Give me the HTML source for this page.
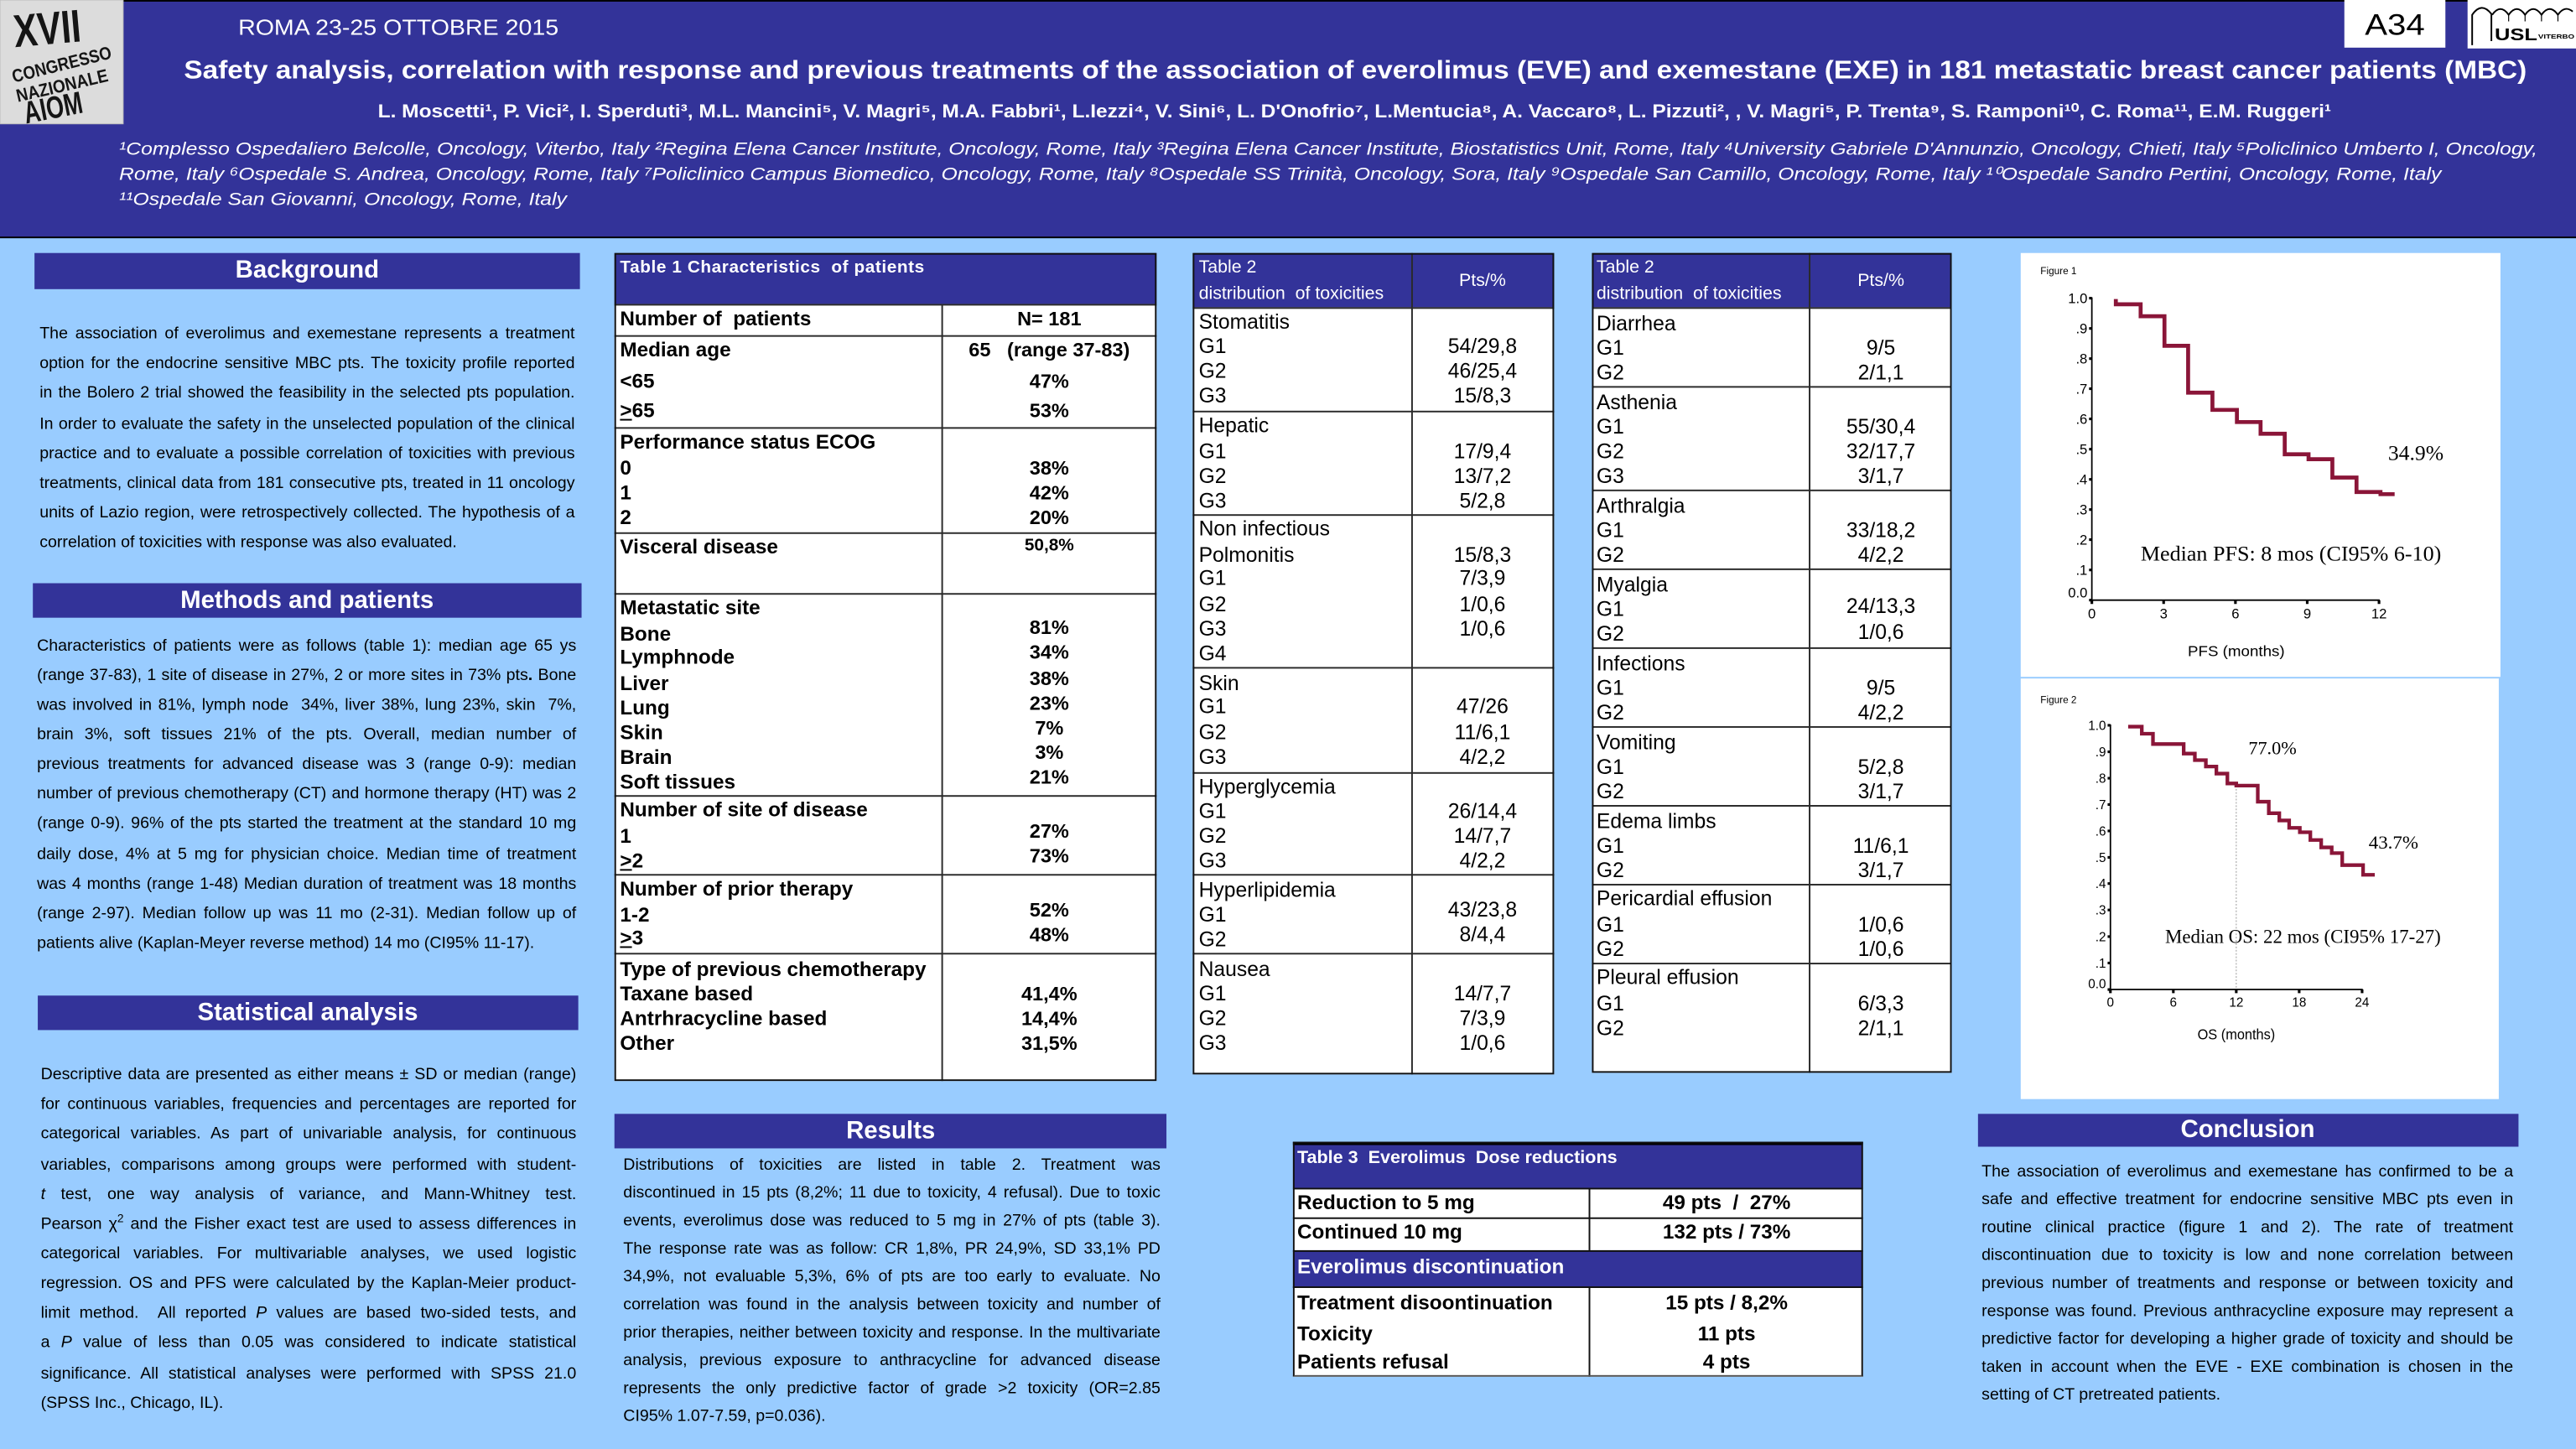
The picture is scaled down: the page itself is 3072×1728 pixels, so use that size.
<!DOCTYPE html>
<html><head><meta charset="utf-8">
<style>
html,body{margin:0;padding:0;}
body{width:3072px;height:1728px;overflow:hidden;background:#99ccff;}
#p{position:absolute;left:0;top:0;width:1568px;height:882px;transform:scale(1.959184);transform-origin:0 0;background:#99ccff;font-family:"Liberation Sans",Arial,sans-serif;color:#000;}
.a{position:absolute;}
.bar{position:absolute;background:#333399;color:#fff;font-weight:bold;font-size:15px;text-align:center;}
.pg{position:absolute;font-size:10px;}
.pg div{text-align:justify;text-align-last:justify;}
.pg div.l{text-align:left;text-align-last:left;}
.w{position:absolute;background:#fff;}
.bl{position:absolute;background:#333399;}
.hl{position:absolute;height:0.9px;background:#2a2a2a;}
.vl{position:absolute;width:0.9px;background:#2a2a2a;}
.bd{position:absolute;box-sizing:border-box;border:1.6px solid #111;}
.t{position:absolute;white-space:nowrap;line-height:14px;height:14px;}
.a1{left:377.4px;font-weight:bold;font-size:12.4px;}
.b1{left:573.7px;width:130px;text-align:center;font-weight:bold;font-size:12px;}
.a2{left:729.7px;font-size:12.6px;}
.b2{left:858.9px;width:87px;text-align:center;font-size:12.6px;}
.a3{left:971.8px;font-size:12.6px;}
.b3{left:1101.5px;width:86.8px;text-align:center;font-size:12.6px;}
.a4{left:789.6px;font-weight:bold;font-size:12.4px;}
.b4{left:967.6px;width:166.8px;text-align:center;font-weight:bold;font-size:12.4px;}
.wh{color:#fff;}
.sp{font-size:7px;vertical-align:4px;line-height:0;}
</style></head><body>
<div id="p">
<!-- header -->
<div class="a" style="left:0;top:0;width:1568px;height:144.5px;background:#333399;box-sizing:border-box;border-top:0.7px solid #000;border-bottom:0.9px solid #000;"></div>

<!-- section bars -->
<div class="bar" style="left:21.3px;top:154.2px;width:331.4px;height:21.8px;line-height:21.8px;">Background</div>
<div class="bar" style="left:19.9px;top:355.4px;width:334px;height:21.1px;line-height:21.1px;">Methods and patients</div>
<div class="bar" style="left:22.5px;top:605.5px;width:329.7px;height:21px;line-height:21px;">Statistical analysis</div>
<div class="bar" style="left:374.4px;top:677.5px;width:335.5px;height:21.1px;line-height:21.1px;">Results</div>
<div class="bar" style="left:1203.6px;top:677.5px;width:329.2px;height:20.6px;line-height:20.6px;">Conclusion</div>

<!-- Background paragraph -->
<div class="pg" style="left:24.1px;top:195.2px;width:325.8px;line-height:18.14px;">
<div>The association of everolimus and exemestane represents a treatment</div>
<div>option for the endocrine sensitive MBC pts. The toxicity profile reported</div>
<div>in the Bolero 2 trial showed the feasibility in the selected pts population.</div>
<div>In order to evaluate the safety in the unselected population of the clinical</div>
<div>practice and to evaluate a possible correlation of toxicities with previous</div>
<div>treatments, clinical data from 181 consecutive pts, treated in 11 oncology</div>
<div>units of Lazio region, were retrospectively collected. The hypothesis of a</div>
<div class="l">correlation of toxicities with response was also evaluated.</div>
</div>

<!-- Methods paragraph -->
<div class="pg" style="left:22.5px;top:384.5px;width:328.3px;line-height:18.15px;">
<div>Characteristics of patients were as follows (table 1): median age 65 ys</div>
<div>(range 37-83), 1 site of disease in 27%, 2 or more sites in 73% pts<b>.</b> Bone</div>
<div>was involved in 81%, lymph node &nbsp;34%, liver 38%, lung 23%, skin &nbsp;7%,</div>
<div>brain 3%, soft tissues 21% of the pts. Overall, median number of</div>
<div>previous treatments for advanced disease was 3 (range 0-9): median</div>
<div>number of previous chemotherapy (CT) and hormone therapy (HT) was 2</div>
<div>(range 0-9). 96% of the pts started the treatment at the standard 10 mg</div>
<div>daily dose, 4% at 5 mg for physician choice. Median time of treatment</div>
<div>was 4 months (range 1-48) Median duration of treatment was 18 months</div>
<div>(range 2-97). Median follow up was 11 mo (2-31). Median follow up of</div>
<div class="l">patients alive (Kaplan-Meyer reverse method) 14 mo (CI95% 11-17).</div>
</div>

<!-- Statistical paragraph -->
<div class="pg" style="left:24.8px;top:646.2px;width:326px;line-height:18.14px;">
<div>Descriptive data are presented as either means ± SD or median (range)</div>
<div>for continuous variables, frequencies and percentages are reported for</div>
<div>categorical variables. As part of univariable analysis, for continuous</div>
<div>variables, comparisons among groups were performed with student-</div>
<div><i>t</i> test, one way analysis of variance, and Mann-Whitney test.</div>
<div>Pearson χ<span class="sp">2</span> and the Fisher exact test are used to assess differences in</div>
<div>categorical variables. For multivariable analyses, we used logistic</div>
<div>regression. OS and PFS were calculated by the Kaplan-Meier product-</div>
<div>limit method. &nbsp;All reported <i>P</i> values are based two-sided tests, and</div>
<div>a <i>P</i> value of less than 0.05 was considered to indicate statistical</div>
<div>significance. All statistical analyses were performed with SPSS 21.0</div>
<div class="l">(SPSS Inc., Chicago, IL).</div>
</div>

<!-- Results paragraph -->
<div class="pg" style="left:379.4px;top:701.8px;width:327px;line-height:16.98px;">
<div>Distributions of toxicities are listed in table 2. Treatment was</div>
<div>discontinued in 15 pts (8,2%; 11 due to toxicity, 4 refusal). Due to toxic</div>
<div>events, everolimus dose was reduced to 5 mg in 27% of pts (table 3).</div>
<div>The response rate was as follow: CR 1,8%, PR 24,9%, SD 33,1% PD</div>
<div>34,9%, not evaluable 5,3%, 6% of pts are too early to evaluate. No</div>
<div>correlation was found in the analysis between toxicity and number of</div>
<div>prior therapies, neither between toxicity and response. In the multivariate</div>
<div>analysis, previous exposure to anthracycline for advanced disease</div>
<div>represents the only predictive factor of grade &gt;2 toxicity (OR=2.85</div>
<div class="l">CI95% 1.07-7.59, p=0.036).</div>
</div>

<!-- Conclusion paragraph -->
<div class="pg" style="left:1206.2px;top:706.1px;width:323.6px;line-height:16.96px;">
<div>The association of everolimus and exemestane has confirmed to be a</div>
<div>safe and effective treatment for endocrine sensitive MBC pts even in</div>
<div>routine clinical practice (figure 1 and 2). The rate of treatment</div>
<div>discontinuation due to toxicity is low and none correlation between</div>
<div>previous number of treatments and response or between toxicity and</div>
<div>response was found. Previous anthracycline exposure may represent a</div>
<div>predictive factor for developing a higher grade of toxicity and should be</div>
<div>taken in account when the EVE - EXE combination is chosen in the</div>
<div class="l">setting of CT pretreated patients.</div>
</div>

<!-- TABLE 1 -->
<div class="w" style="left:373.6px;top:154px;width:330.2px;height:504.4px;"></div>
<div class="bl" style="left:373.6px;top:154px;width:330.2px;height:30.9px;"></div>
<div class="t wh" style="left:377.4px;top:156.1px;font-weight:bold;font-size:10.6px;letter-spacing:0.3px;">Table 1 Characteristics &nbsp;of patients</div>
<div class="hl" style="left:373.6px;width:330.2px;top:184.5px;"></div>
<div class="hl" style="left:373.6px;width:330.2px;top:204px;"></div>
<div class="hl" style="left:373.6px;width:330.2px;top:260.3px;"></div>
<div class="hl" style="left:373.6px;width:330.2px;top:323.7px;"></div>
<div class="hl" style="left:373.6px;width:330.2px;top:360.6px;"></div>
<div class="hl" style="left:373.6px;width:330.2px;top:484.3px;"></div>
<div class="hl" style="left:373.6px;width:330.2px;top:532px;"></div>
<div class="hl" style="left:373.6px;width:330.2px;top:580.2px;"></div>
<div class="vl" style="left:573.3px;top:184.9px;height:473.5px;"></div>
<div class="bd" style="left:373.6px;top:154px;width:330.2px;height:504.4px;"></div>

<div class="t a1" style="top:187.3px">Number of &nbsp;patients</div>
<div class="t a1" style="top:206.4px">Median age</div>
<div class="t a1" style="top:224.9px">&lt;65</div>
<div class="t a1" style="top:242.6px"><u>&gt;</u>65</div>
<div class="t a1" style="top:262.4px">Performance status ECOG</div>
<div class="t a1" style="top:277.8px">0</div>
<div class="t a1" style="top:292.6px">1</div>
<div class="t a1" style="top:307.7px">2</div>
<div class="t a1" style="top:325.8px">Visceral disease</div>
<div class="t a1" style="top:363px">Metastatic site</div>
<div class="t a1" style="top:378.5px">Bone</div>
<div class="t a1" style="top:393.2px">Lymphnode</div>
<div class="t a1" style="top:408.6px">Liver</div>
<div class="t a1" style="top:423.7px">Lung</div>
<div class="t a1" style="top:438.8px">Skin</div>
<div class="t a1" style="top:453.9px">Brain</div>
<div class="t a1" style="top:469px">Soft tissues</div>
<div class="t a1" style="top:486.4px">Number of site of disease</div>
<div class="t a1" style="top:501.9px">1</div>
<div class="t a1" style="top:516.6px"><u>&gt;</u>2</div>
<div class="t a1" style="top:534.4px">Number of prior therapy</div>
<div class="t a1" style="top:549.5px">1-2</div>
<div class="t a1" style="top:564.3px"><u>&gt;</u>3</div>
<div class="t a1" style="top:583px">Type of previous chemotherapy</div>
<div class="t a1" style="top:597.8px">Taxane based</div>
<div class="t a1" style="top:612.5px">Antrhracycline based</div>
<div class="t a1" style="top:628px">Other</div>

<div class="t b1" style="top:187.3px">N= 181</div>
<div class="t b1" style="top:206.4px">65 &nbsp;&nbsp;(range 37-83)</div>
<div class="t b1" style="top:224.9px">47%</div>
<div class="t b1" style="top:242.6px">53%</div>
<div class="t b1" style="top:277.8px">38%</div>
<div class="t b1" style="top:292.6px">42%</div>
<div class="t b1" style="top:307.7px">20%</div>
<div class="t b1" style="top:324.8px;font-size:10.6px;">50,8%</div>
<div class="t b1" style="top:375.1px">81%</div>
<div class="t b1" style="top:390.2px">34%</div>
<div class="t b1" style="top:405.6px">38%</div>
<div class="t b1" style="top:420.7px">23%</div>
<div class="t b1" style="top:436.1px">7%</div>
<div class="t b1" style="top:451.2px">3%</div>
<div class="t b1" style="top:466.3px">21%</div>
<div class="t b1" style="top:498.8px">27%</div>
<div class="t b1" style="top:513.9px">73%</div>
<div class="t b1" style="top:546.8px">52%</div>
<div class="t b1" style="top:561.9px">48%</div>
<div class="t b1" style="top:597.8px">41,4%</div>
<div class="t b1" style="top:612.5px">14,4%</div>
<div class="t b1" style="top:627.5px">31,5%</div>

<!-- TABLE 2a -->
<div class="w" style="left:726.3px;top:154px;width:219.5px;height:500.4px;"></div>
<div class="bl" style="left:726.3px;top:154px;width:219.5px;height:33.3px;"></div>
<div class="t wh" style="left:729.7px;top:155.8px;font-size:10.9px;">Table 2</div>
<div class="t wh" style="left:729.7px;top:172.2px;font-size:10.9px;">distribution &nbsp;of toxicities</div>
<div class="t wh" style="left:858.9px;width:87px;text-align:center;top:163.8px;font-size:10.9px;">Pts/%</div>
<div class="hl" style="left:726.3px;width:219.5px;top:186.9px;"></div>
<div class="hl" style="left:726.3px;width:219.5px;top:249.9px;"></div>
<div class="hl" style="left:726.3px;width:219.5px;top:313px;"></div>
<div class="hl" style="left:726.3px;width:219.5px;top:406.2px;"></div>
<div class="hl" style="left:726.3px;width:219.5px;top:469.6px;"></div>
<div class="hl" style="left:726.3px;width:219.5px;top:532.3px;"></div>
<div class="hl" style="left:726.3px;width:219.5px;top:580.2px;"></div>
<div class="vl" style="left:858.5px;top:154px;height:500.4px;"></div>
<div class="bd" style="left:726.3px;top:154px;width:219.5px;height:500.4px;"></div>

<div class="t a2" style="top:189px">Stomatitis</div>
<div class="t a2" style="top:204.1px">G1</div>
<div class="t a2" style="top:219.2px">G2</div>
<div class="t a2" style="top:234.3px">G3</div>
<div class="t a2" style="top:252.3px">Hepatic</div>
<div class="t a2" style="top:267.6px">G1</div>
<div class="t a2" style="top:282.6px">G2</div>
<div class="t a2" style="top:297.6px">G3</div>
<div class="t a2" style="top:315.4px">Non infectious</div>
<div class="t a2" style="top:330.5px">Polmonitis</div>
<div class="t a2" style="top:345.4px">G1</div>
<div class="t a2" style="top:360.7px">G2</div>
<div class="t a2" style="top:375.8px">G3</div>
<div class="t a2" style="top:390.8px">G4</div>
<div class="t a2" style="top:408.6px">Skin</div>
<div class="t a2" style="top:423.2px">G1</div>
<div class="t a2" style="top:438.5px">G2</div>
<div class="t a2" style="top:453.6px">G3</div>
<div class="t a2" style="top:472px">Hyperglycemia</div>
<div class="t a2" style="top:487.1px">G1</div>
<div class="t a2" style="top:502.2px">G2</div>
<div class="t a2" style="top:517.3px">G3</div>
<div class="t a2" style="top:535.1px">Hyperlipidemia</div>
<div class="t a2" style="top:550.2px">G1</div>
<div class="t a2" style="top:564.9px">G2</div>
<div class="t a2" style="top:583px">Nausea</div>
<div class="t a2" style="top:597.8px">G1</div>
<div class="t a2" style="top:612.8px">G2</div>
<div class="t a2" style="top:628px">G3</div>

<div class="t b2" style="top:204.1px">54/29,8</div>
<div class="t b2" style="top:219.2px">46/25,4</div>
<div class="t b2" style="top:234.3px">15/8,3</div>
<div class="t b2" style="top:267.6px">17/9,4</div>
<div class="t b2" style="top:282.6px">13/7,2</div>
<div class="t b2" style="top:297.6px">5/2,8</div>
<div class="t b2" style="top:330.5px">15/8,3</div>
<div class="t b2" style="top:345.4px">7/3,9</div>
<div class="t b2" style="top:360.7px">1/0,6</div>
<div class="t b2" style="top:375.8px">1/0,6</div>
<div class="t b2" style="top:422.8px">47/26</div>
<div class="t b2" style="top:438.5px">11/6,1</div>
<div class="t b2" style="top:453.6px">4/2,2</div>
<div class="t b2" style="top:487.1px">26/14,4</div>
<div class="t b2" style="top:502.2px">14/7,7</div>
<div class="t b2" style="top:517.3px">4/2,2</div>
<div class="t b2" style="top:546.8px">43/23,8</div>
<div class="t b2" style="top:561.9px">8/4,4</div>
<div class="t b2" style="top:597.8px">14/7,7</div>
<div class="t b2" style="top:612.8px">7/3,9</div>
<div class="t b2" style="top:628px">1/0,6</div>

<!-- TABLE 2b -->
<div class="w" style="left:968.5px;top:154px;width:219.8px;height:498.7px;"></div>
<div class="bl" style="left:968.5px;top:154px;width:219.8px;height:33.3px;"></div>
<div class="t wh" style="left:971.8px;top:155.8px;font-size:10.9px;">Table 2</div>
<div class="t wh" style="left:971.8px;top:172.2px;font-size:10.9px;">distribution &nbsp;of toxicities</div>
<div class="t wh" style="left:1101.5px;width:86.8px;text-align:center;top:163.8px;font-size:10.9px;">Pts/%</div>
<div class="hl" style="left:968.5px;width:219.8px;top:186.9px;"></div>
<div class="hl" style="left:968.5px;width:219.8px;top:234.8px;"></div>
<div class="hl" style="left:968.5px;width:219.8px;top:298.2px;"></div>
<div class="hl" style="left:968.5px;width:219.8px;top:346.2px;"></div>
<div class="hl" style="left:968.5px;width:219.8px;top:394.1px;"></div>
<div class="hl" style="left:968.5px;width:219.8px;top:442.1px;"></div>
<div class="hl" style="left:968.5px;width:219.8px;top:490px;"></div>
<div class="hl" style="left:968.5px;width:219.8px;top:538px;"></div>
<div class="hl" style="left:968.5px;width:219.8px;top:585.9px;"></div>
<div class="vl" style="left:1101.1px;top:154px;height:498.7px;"></div>
<div class="bd" style="left:968.5px;top:154px;width:219.8px;height:498.7px;"></div>

<div class="t a3" style="top:189.6px">Diarrhea</div>
<div class="t a3" style="top:204.7px">G1</div>
<div class="t a3" style="top:219.8px">G2</div>
<div class="t a3" style="top:237.6px">Asthenia</div>
<div class="t a3" style="top:252.7px">G1</div>
<div class="t a3" style="top:267.7px">G2</div>
<div class="t a3" style="top:282.8px">G3</div>
<div class="t a3" style="top:300.6px">Arthralgia</div>
<div class="t a3" style="top:315.7px">G1</div>
<div class="t a3" style="top:330.7px">G2</div>
<div class="t a3" style="top:348.6px">Myalgia</div>
<div class="t a3" style="top:363.7px">G1</div>
<div class="t a3" style="top:378.7px">G2</div>
<div class="t a3" style="top:396.6px">Infections</div>
<div class="t a3" style="top:411.7px">G1</div>
<div class="t a3" style="top:426.7px">G2</div>
<div class="t a3" style="top:444.5px">Vomiting</div>
<div class="t a3" style="top:459.6px">G1</div>
<div class="t a3" style="top:474.6px">G2</div>
<div class="t a3" style="top:492.5px">Edema limbs</div>
<div class="t a3" style="top:507.6px">G1</div>
<div class="t a3" style="top:522.6px">G2</div>
<div class="t a3" style="top:540.4px">Pericardial effusion</div>
<div class="t a3" style="top:555.5px">G1</div>
<div class="t a3" style="top:570.5px">G2</div>
<div class="t a3" style="top:588.4px">Pleural effusion</div>
<div class="t a3" style="top:603.5px">G1</div>
<div class="t a3" style="top:618.5px">G2</div>

<div class="t b3" style="top:204.7px">9/5</div>
<div class="t b3" style="top:219.8px">2/1,1</div>
<div class="t b3" style="top:252.7px">55/30,4</div>
<div class="t b3" style="top:267.7px">32/17,7</div>
<div class="t b3" style="top:282.8px">3/1,7</div>
<div class="t b3" style="top:315.7px">33/18,2</div>
<div class="t b3" style="top:330.7px">4/2,2</div>
<div class="t b3" style="top:362.3px">24/13,3</div>
<div class="t b3" style="top:377.7px">1/0,6</div>
<div class="t b3" style="top:411.7px">9/5</div>
<div class="t b3" style="top:426.7px">4/2,2</div>
<div class="t b3" style="top:459.6px">5/2,8</div>
<div class="t b3" style="top:474.6px">3/1,7</div>
<div class="t b3" style="top:507.6px">11/6,1</div>
<div class="t b3" style="top:522.6px">3/1,7</div>
<div class="t b3" style="top:555.5px">1/0,6</div>
<div class="t b3" style="top:570.5px">1/0,6</div>
<div class="t b3" style="top:603.5px">6/3,3</div>
<div class="t b3" style="top:618.5px">2/1,1</div>

<!-- TABLE 3 -->
<div class="w" style="left:787px;top:695.8px;width:347.4px;height:142.2px;"></div>
<div class="bl" style="left:787px;top:695.8px;width:347.4px;height:27.3px;"></div>
<div class="bl" style="left:787px;top:761px;width:347.4px;height:22.5px;"></div>
<div class="a" style="left:787px;top:695.2px;width:347.4px;height:1.8px;background:#000;"></div>
<div class="t wh" style="left:789.6px;top:698.2px;font-weight:bold;font-size:11px;">Table 3 &nbsp;Everolimus &nbsp;Dose reductions</div>
<div class="hl" style="left:787px;width:347.4px;top:722.7px;background:#111;"></div>
<div class="hl" style="left:787px;width:347.4px;top:740.6px;background:#111;"></div>
<div class="hl" style="left:787px;width:347.4px;top:760.6px;background:#111;"></div>
<div class="hl" style="left:787px;width:347.4px;top:783.1px;background:#111;"></div>
<div class="vl" style="left:967.2px;top:723.1px;height:37.9px;background:#111;"></div>
<div class="vl" style="left:967.2px;top:783.5px;height:54.5px;background:#111;"></div>
<div class="a" style="left:787px;top:695.2px;width:347.4px;height:142.8px;box-sizing:border-box;border:1.2px solid #111;border-bottom:1.4px solid #555;"></div>
<div class="t a4" style="top:725.4px">Reduction to 5 mg</div>
<div class="t a4" style="top:743.3px">Continued 10 mg</div>
<div class="t a4 wh" style="top:763.7px">Everolimus discontinuation</div>
<div class="t a4" style="top:785.8px">Treatment disoontinuation</div>
<div class="t a4" style="top:804.6px">Toxicity</div>
<div class="t a4" style="top:822.4px">Patients refusal</div>
<div class="t b4" style="top:725.4px">49 pts &nbsp;/ &nbsp;27%</div>
<div class="t b4" style="top:743.3px">132 pts / 73%</div>
<div class="t b4" style="top:785.8px">15 pts / 8,2%</div>
<div class="t b4" style="top:804.6px">11 pts</div>
<div class="t b4" style="top:822.4px">4 pts</div>

<!-- figure boxes -->
<div class="w" style="left:1230px;top:154.1px;width:292px;height:258px;"></div>
<div class="w" style="left:1230px;top:413.4px;width:291.3px;height:256.1px;"></div>

<svg width="1568" height="882" viewBox="0 0 1568 882" style="position:absolute;left:0;top:0;" font-family="Liberation Sans, Arial, sans-serif">
<!-- AIOM logo -->
<rect x="0" y="0" width="75" height="75.4" fill="#dcdcdc"/>
<rect x="0" y="0" width="75" height="75.4" fill="none" stroke="#bbb" stroke-width="0.5"/>
<g font-weight="bold" fill="#151515">
<text x="8" y="27" font-size="28" textLength="41" lengthAdjust="spacingAndGlyphs" transform="rotate(-5 28 15)">XVII</text>
<text x="6" y="43" font-size="11" textLength="62" lengthAdjust="spacingAndGlyphs" transform="rotate(-14 37 37)">CONGRESSO</text>
<text x="9" y="56" font-size="11" textLength="57" lengthAdjust="spacingAndGlyphs" transform="rotate(-13 37 51)">NAZIONALE</text>
<text x="14" y="72" font-size="19" textLength="36" lengthAdjust="spacingAndGlyphs" transform="rotate(-11 32 64)">AIOM</text>
</g>
<!-- header text -->
<g fill="#fff">
<text x="145" y="21.3" font-size="13" textLength="195" lengthAdjust="spacingAndGlyphs">ROMA 23-25 OTTOBRE  2015</text>
<text x="112" y="47.6" font-size="15.5" font-weight="bold" textLength="1426" lengthAdjust="spacingAndGlyphs">Safety analysis, correlation with response and previous treatments of the association of everolimus (EVE) and exemestane (EXE) in 181 metastatic breast cancer patients (MBC)</text>
<text x="230" y="71.5" font-size="11.4" font-weight="bold" textLength="1189" lengthAdjust="spacingAndGlyphs">L. Moscetti¹, P. Vici², I. Sperduti³,  M.L. Mancini⁵, V. Magri⁵, M.A. Fabbri¹, L.Iezzi⁴, V. Sini⁶, L. D'Onofrio⁷, L.Mentucia⁸, A. Vaccaro⁸, L. Pizzuti², , V. Magri⁵, P. Trenta⁹, S. Ramponi¹⁰, C. Roma¹¹, E.M. Ruggeri¹</text>
<text x="72.5" y="94.1" font-size="11" font-style="italic" textLength="1472" lengthAdjust="spacingAndGlyphs">¹Complesso Ospedaliero Belcolle, Oncology, Viterbo, Italy ²Regina Elena Cancer Institute, Oncology, Rome, Italy ³Regina Elena Cancer Institute, Biostatistics Unit, Rome, Italy ⁴University Gabriele D'Annunzio, Oncology, Chieti, Italy ⁵Policlinico Umberto I, Oncology,</text>
<text x="72.5" y="109.4" font-size="11" font-style="italic" textLength="1413.5" lengthAdjust="spacingAndGlyphs">Rome, Italy ⁶Ospedale S. Andrea, Oncology, Rome, Italy ⁷Policlinico Campus Biomedico, Oncology, Rome, Italy ⁸Ospedale SS Trinità, Oncology, Sora, Italy ⁹Ospedale San Camillo, Oncology, Rome,  Italy ¹⁰Ospedale Sandro Pertini, Oncology, Rome, Italy</text>
<text x="72.5" y="124.7" font-size="11" font-style="italic" textLength="272.5" lengthAdjust="spacingAndGlyphs">¹¹Ospedale San Giovanni, Oncology, Rome, Italy</text>
</g>
<!-- A34 -->
<rect x="1427" y="0" width="61.5" height="29" fill="#fff"/>
<text x="1439.5" y="21.3" font-size="18" textLength="36.5" lengthAdjust="spacingAndGlyphs" fill="#000">A34</text>
<!-- USL logo -->
<rect x="1502" y="0" width="66" height="29.5" fill="#fff"/>
<g fill="none" stroke="#000" stroke-width="1">
<path d="M1504.8 27.5 V9 Q1510.5 0.8 1516.5 8.5 V25"/>
<path d="M1517 9 Q1522 2 1527 9 Q1532 2 1537 9 Q1542 2 1547 9 Q1552 2 1557 9 Q1561 3 1566 7"/>
<path d="M1527 9 V13 M1537 9 V13 M1547 9 V13 M1557 9 V13" stroke-width="0.6"/>
</g>
<text x="1518.5" y="24.6" font-size="10.5" font-weight="bold" textLength="26" lengthAdjust="spacingAndGlyphs">USL</text>
<text x="1545" y="23.5" font-size="3.6" font-weight="bold" textLength="22" lengthAdjust="spacingAndGlyphs">VITERBO</text>

<!-- FIGURE 1 -->
<text x="1242" y="167" font-size="6" fill="#000">Figure 1</text>
<g stroke="#000" stroke-width="0.9" fill="none">
<path d="M1273.3 181 V365.3 H1448.5"/>
</g>
<g stroke="#000" stroke-width="1.6">
<path d="M1271.6 181.5 H1273.3 M1271.6 199.9 H1273.3 M1271.6 218.3 H1273.3 M1271.6 236.6 H1273.3 M1271.6 255 H1273.3 M1271.6 273.4 H1273.3 M1271.6 291.8 H1273.3 M1271.6 310.2 H1273.3 M1271.6 328.5 H1273.3 M1271.6 346.9 H1273.3 M1271.6 365.3 H1273.3"/>
<path d="M1273.3 365.3 V367.6 M1317 365.3 V367.6 M1360.7 365.3 V367.6 M1404.4 365.3 V367.6 M1448.1 365.3 V367.6"/>
</g>
<g font-size="8.5" text-anchor="end" fill="#000">
<text x="1270.6" y="184.5">1.0</text>
<text x="1270.6" y="202.9">.9</text>
<text x="1270.6" y="221.3">.8</text>
<text x="1270.6" y="239.6">.7</text>
<text x="1270.6" y="258">.6</text>
<text x="1270.6" y="276.4">.5</text>
<text x="1270.6" y="294.8">.4</text>
<text x="1270.6" y="313.2">.3</text>
<text x="1270.6" y="331.5">.2</text>
<text x="1270.6" y="349.9">.1</text>
<text x="1270.6" y="363.7">0.0</text>
</g>
<g font-size="8.5" text-anchor="middle" fill="#000">
<text x="1273.3" y="376.5">0</text>
<text x="1317" y="376.5">3</text>
<text x="1360.7" y="376.5">6</text>
<text x="1404.4" y="376.5">9</text>
<text x="1448.1" y="376.5">12</text>
</g>
<text x="1331.7" y="399.5" font-size="9" textLength="59" lengthAdjust="spacingAndGlyphs" fill="#000">PFS (months)</text>
<path d="M1287.9 182 V185.2 H1303 V192.5 H1317.5 V210.5 H1331.9 V239 H1346.7 V249.5 H1361.6 V256.9 H1376 V264 H1390.7 V276.5 H1405.2 V279.5 H1419.7 V290.7 H1434.4 V299.5 H1449 V300.8 H1457.6" fill="none" stroke="#8a1538" stroke-width="2.4"/>
<g font-family="Liberation Serif, serif" fill="#000">
<text x="1453.6" y="280" font-size="13" textLength="33.8" lengthAdjust="spacingAndGlyphs">34.9%</text>
<text x="1303" y="341.2" font-size="13" textLength="183" lengthAdjust="spacingAndGlyphs">Median PFS: 8 mos (CI95% 6-10)</text>
</g>

<!-- FIGURE 2 -->
<text x="1242" y="428" font-size="6" fill="#000">Figure 2</text>
<path d="M1361.2 478.2 V602.3" stroke="#999" stroke-width="0.5" stroke-dasharray="1 1" fill="none"/>
<g stroke="#000" stroke-width="0.9" fill="none">
<path d="M1284.6 441 V602.3 H1438.2"/>
</g>
<g stroke="#000" stroke-width="1.6">
<path d="M1282.9 441.5 H1284.6 M1282.9 457.6 H1284.6 M1282.9 473.7 H1284.6 M1282.9 489.7 H1284.6 M1282.9 505.8 H1284.6 M1282.9 521.9 H1284.6 M1282.9 537.8 H1284.6 M1282.9 553.9 H1284.6 M1282.9 570.1 H1284.6 M1282.9 586.2 H1284.6 M1282.9 602.3 H1284.6"/>
<path d="M1284.6 602.3 V604.5 M1322.9 602.3 V604.5 M1361.2 602.3 V604.5 M1399.5 602.3 V604.5 M1437.8 602.3 V604.5"/>
</g>
<g font-size="7.8" text-anchor="end" fill="#000">
<text x="1281.9" y="444.3">1.0</text>
<text x="1281.9" y="460.4">.9</text>
<text x="1281.9" y="476.5">.8</text>
<text x="1281.9" y="492.5">.7</text>
<text x="1281.9" y="508.6">.6</text>
<text x="1281.9" y="524.7">.5</text>
<text x="1281.9" y="540.6">.4</text>
<text x="1281.9" y="556.7">.3</text>
<text x="1281.9" y="572.9">.2</text>
<text x="1281.9" y="589">.1</text>
<text x="1281.9" y="601.4">0.0</text>
</g>
<g font-size="7.8" text-anchor="middle" fill="#000">
<text x="1284.6" y="612.8">0</text>
<text x="1322.9" y="612.8">6</text>
<text x="1361.2" y="612.8">12</text>
<text x="1399.5" y="612.8">18</text>
<text x="1437.8" y="612.8">24</text>
</g>
<text x="1337.6" y="632.6" font-size="9" textLength="47.3" lengthAdjust="spacingAndGlyphs" fill="#000">OS (months)</text>
<path d="M1295.4 442.3 H1303.7 V446.6 H1310.5 V452.9 H1329.2 V458.7 H1336 V462.7 H1342.7 V466.6 H1349.1 V470.9 H1355.8 V476.9 H1361.2 V478.2 H1374.3 V488 H1381 V495 H1387.4 V499.4 H1393.4 V503.9 H1399.9 V506.6 H1406.3 V511.3 H1412.9 V515.8 H1419.3 V519.3 H1425.7 V526.6 H1438.4 V532.5 H1445.5" fill="none" stroke="#8a1538" stroke-width="2.2"/>
<g font-family="Liberation Serif, serif" fill="#000">
<text x="1368.6" y="459.1" font-size="11.5" textLength="29.3" lengthAdjust="spacingAndGlyphs">77.0%</text>
<text x="1441.8" y="516.5" font-size="11.5" textLength="30.2" lengthAdjust="spacingAndGlyphs">43.7%</text>
<text x="1317.9" y="573.9" font-size="11.7" textLength="167.8" lengthAdjust="spacingAndGlyphs">Median OS: 22 mos (CI95% 17-27)</text>
</g>
</svg>
</div>
</body></html>
